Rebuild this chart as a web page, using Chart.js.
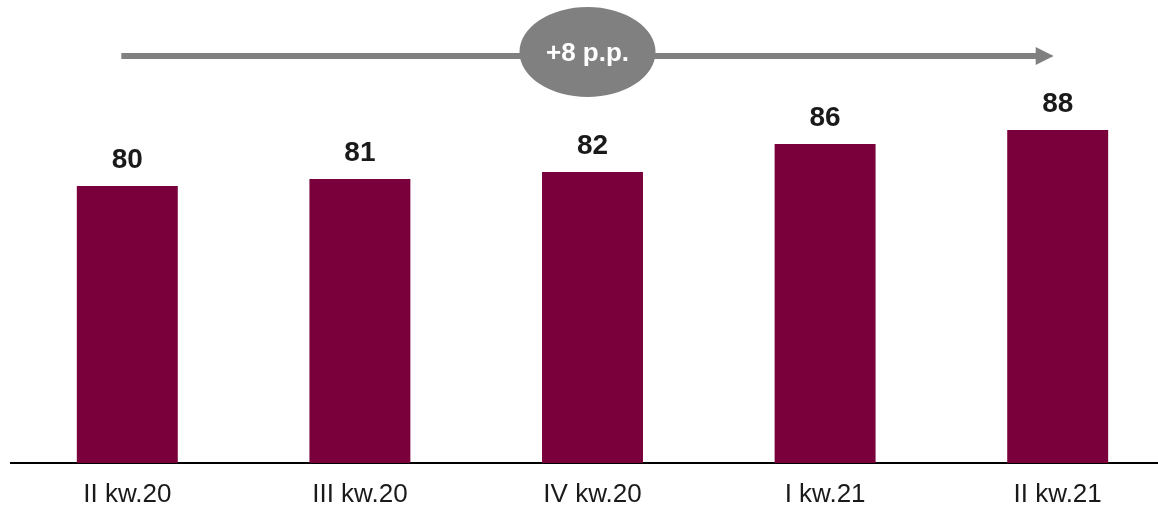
<!DOCTYPE html>
<html>
<head>
<meta charset="utf-8">
<script src="https://cdn.jsdelivr.net/npm/chart.js@4/dist/chart.umd.min.js"></script>
<style>
  html, body { margin: 0; padding: 0; background: #ffffff; overflow: hidden; }
  #wrap { width: 1174px; height: 507px; }
</style>
</head>
<body>
<div id="wrap"><canvas id="c" width="1174" height="507"></canvas></div>
<script>
const categories = ["II kw.20", "III kw.20", "IV kw.20", "I kw.21", "II kw.21"];
const values = [80, 81, 82, 86, 88];
const yMin = 40.43;
const yMax = 106.57;
const barColor = "#7A003C";
const arrowColor = "#808080";

const valueLabels = {
  id: "valueLabels",
  afterDatasetsDraw(chart) {
    const ctx = chart.ctx;
    const meta = chart.getDatasetMeta(0);
    ctx.save();
    ctx.font = "bold 28px 'Liberation Sans', Arial, sans-serif";
    ctx.fillStyle = "#1a1a1a";
    ctx.textAlign = "center";
    ctx.textBaseline = "alphabetic";
    meta.data.forEach((bar, i) => {
      ctx.fillText(String(values[i]), bar.x, bar.y - 18);
    });
    ctx.restore();
  }
};

const trendArrow = {
  id: "trendArrow",
  afterDraw(chart) {
    const ctx = chart.ctx;
    const xs = chart.scales.x;
    const x0 = xs.getPixelForValue(0) - 6;
    const tip = xs.getPixelForValue(values.length - 1) - 4;
    const y = 56;
    const headLen = 18, headHalf = 9;
    ctx.save();
    ctx.strokeStyle = arrowColor;
    ctx.fillStyle = arrowColor;
    ctx.lineWidth = 6;
    ctx.beginPath();
    ctx.moveTo(x0, y);
    ctx.lineTo(tip - headLen + 1, y);
    ctx.stroke();
    ctx.beginPath();
    ctx.moveTo(tip, y);
    ctx.lineTo(tip - headLen, y - headHalf);
    ctx.lineTo(tip - headLen, y + headHalf);
    ctx.closePath();
    ctx.fill();
    const cx = (xs.getPixelForValue(0) + xs.getPixelForValue(values.length - 1)) / 2 - 5;
    const cy = 52;
    ctx.beginPath();
    ctx.ellipse(cx, cy, 68, 45, 0, 0, Math.PI * 2);
    ctx.fill();
    const diff = values[values.length - 1] - values[0];
    ctx.fillStyle = "#ffffff";
    ctx.font = "bold 26px 'Liberation Sans', Arial, sans-serif";
    ctx.textAlign = "center";
    ctx.textBaseline = "middle";
    ctx.fillText((diff >= 0 ? "+" : "") + diff + " p.p.", cx, cy + 2);
    ctx.restore();
  }
};

new Chart(document.getElementById("c"), {
  type: "bar",
  data: {
    labels: categories,
    datasets: [{
      data: values,
      backgroundColor: barColor,
      borderWidth: 0,
      barPercentage: 0.434,
      categoryPercentage: 1.0
    }]
  },
  options: {
    responsive: false,
    devicePixelRatio: 1,
    animation: false,
    layout: { padding: { left: 11, right: 0, top: 0, bottom: 1 } },
    plugins: { legend: { display: false }, tooltip: { enabled: false } },
    scales: {
      x: {
        z: 1,
        grid: { display: false, drawTicks: false },
        border: { display: true, color: "#000000", width: 2 },
        ticks: {
          color: "#1a1a1a",
          font: { family: "'Liberation Sans', Arial, sans-serif", size: 26 },
          padding: 16,
          maxRotation: 0
        },
        afterFit(scale) { scale.height = 43; }
      },
      y: { display: false, min: yMin, max: yMax }
    }
  },
  plugins: [valueLabels, trendArrow]
});
</script>
</body>
</html>
